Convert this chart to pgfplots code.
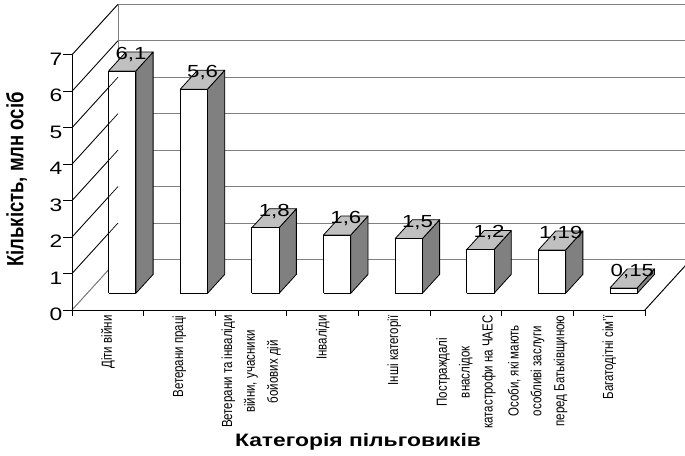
\documentclass[border=0pt]{standalone}
\usepackage{pgfplots}
\pgfplotsset{compat=1.18}
\usepackage{graphicx}
\usepackage{fontspec}
\setmainfont{Liberation Sans}
\usetikzlibrary{calc}
\definecolor{sidegray}{RGB}{128,128,128}
\definecolor{topgray}{RGB}{192,192,192}
\definecolor{wallgray}{RGB}{128,128,128}

% one 3D bar: #1 = category index, #2 = value
\newcommand{\cuboid}[2]{%
  \pgfmathsetmacro\xa{#1+0.30}%
  \pgfmathsetmacro\xb{#1+0.68}%
  \addplot3[fill=sidegray, draw=black, line width=0.7pt, line join=round] coordinates {(\xb,0.33,0) (\xb,0.706,0) (\xb,0.706,#2) (\xb,0.33,#2) (\xb,0.33,0)};
  \addplot3[fill=topgray, draw=black, line width=0.7pt, line join=round] coordinates {(\xa,0.33,#2) (\xb,0.33,#2) (\xb,0.706,#2) (\xa,0.706,#2) (\xa,0.33,#2)};
  \addplot3[fill=white, draw=black, line width=0.7pt, line join=round] coordinates {(\xa,0.33,0) (\xb,0.33,0) (\xb,0.33,#2) (\xa,0.33,#2) (\xa,0.33,0)};
}

\begin{document}
\scalebox{1.27}[1]{%
\begin{tikzpicture}
\begin{axis}[
  x={(56.4pt,0pt)}, y={(36.2pt,50.5pt)}, z={(0pt,36.46pt)},
  xmin=0, xmax=8, ymin=0, ymax=1, zmin=0, zmax=7,
  clip=false,
  axis line style={wallgray, line width=0.7pt},
  ytick=\empty,
  ztick={0,...,7},
  xtick={0.5,1.5,...,7.5},
  xticklabels={{Діти війни},{Ветерани праці},{Ветерани та інваліди\\війни, учасники\\бойових дій},{Інваліди},{Інші категорії},{Постраждалі\\внаслідок\\катастрофи на ЧАЕС},{Особи, які мають\\особливі заслуги\\перед Батьківщиною},{Багатодітні сім'ї}},
  major tick length=0pt,
  zmajorgrids, major grid style={wallgray, line width=0.7pt},
  /pgf/number format/assume math mode=true,
  zticklabel style={font=\fontsize{18}{18}\selectfont, xshift=-4pt},
  xticklabel style={font=\fontsize{11.5}{18}\selectfont, yshift=-2pt, rotate=90, anchor=east, align=center},
]
\cuboid{0}{6.1}
\cuboid{1}{5.6}
\cuboid{2}{1.8}
\cuboid{3}{1.6}
\cuboid{4}{1.5}
\cuboid{5}{1.2}
\cuboid{6}{1.19}
\cuboid{7}{0.15}
\addplot3[draw=none, mark=none, nodes near coords, point meta=explicit symbolic,
  every node near coord/.append style={anchor=base, yshift=2pt, font=\fontsize{17.5}{17.5}\selectfont}]
  coordinates {(0.49,0.52,6.1) [6,1] (1.49,0.52,5.6) [5,6] (2.49,0.52,1.8) [1,8] (3.49,0.52,1.6) [1,6]
               (4.49,0.52,1.5) [1,5] (5.49,0.52,1.2) [1,2] (6.49,0.52,1.19) [1,19] (7.49,0.52,0.15) [0,15]};
% black axes and left-wall lines
\draw[black, line width=0.7pt] (axis cs:0,0,0) -- (axis cs:8,0,0);
\draw[black, line width=0.7pt] (axis cs:0,0,0) -- (axis cs:0,0,7);
\draw[black, line width=0.7pt] (axis cs:8,0,0) -- (axis cs:8,1,0);
\pgfplotsinvokeforeach{1,...,7}{\draw[black, line width=0.6pt] (axis cs:0,0,#1) -- (axis cs:0,1,#1);}
\pgfplotsinvokeforeach{0,...,7}{\draw[black, line width=0.7pt] (axis cs:0,0,#1) -- ++(-6.8pt,0pt);}
\pgfplotsinvokeforeach{0,...,8}{\draw[black, line width=0.7pt] (axis cs:#1,0,0) -- ++(0pt,-6pt);}
\coordinate (O) at (axis cs:0,0,0);
\end{axis}
\node[rotate=90, font=\bfseries\fontsize{18.5}{18.5}\selectfont] at ($(O)+(-43.7pt,130.5pt)$) {Кількість, млн осіб};
\node[anchor=base, font=\bfseries\fontsize{18}{18}\selectfont] at ($(O)+(225.2pt,-136.7pt)$) {Категорія пільговиків};
\pgfresetboundingbox
\path[use as bounding box] ($(O)+(-56.7pt,-146pt)$) rectangle ($(O)+(482.7pt,310pt)$);
\end{tikzpicture}}
\end{document}
